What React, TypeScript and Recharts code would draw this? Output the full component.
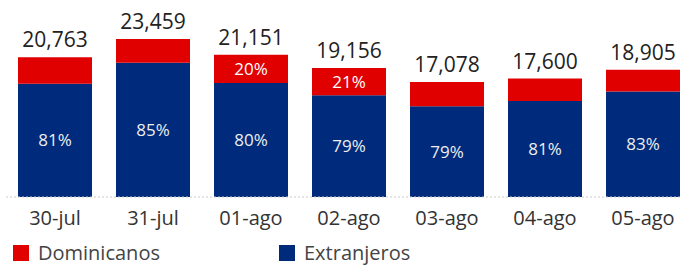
import React from "react";
import { BarChart, Bar, XAxis, YAxis, LabelList } from "recharts";

const days = ["30-jul", "31-jul", "01-ago", "02-ago", "03-ago", "04-ago", "05-ago"];
const totals = [20763, 23459, 21151, 19156, 17078, 17600, 18905];
const dominicanos = [3945, 3519, 4230, 4023, 3586, 3344, 3214];
const extranjeros = [16818, 19940, 16921, 15133, 13492, 14256, 15691];
const extLabels = ["81%", "85%", "80%", "79%", "79%", "81%", "83%"];
const domLabels = ["", "", "20%", "21%", "", "", ""];

const RED = "#e00000";
const BLUE = "#002a7b";
const FONT = "'Open Sans', sans-serif";

const data = days.map((day, i) => ({
  day,
  total: totals[i].toLocaleString("en-US"),
  dominicanos: dominicanos[i],
  extranjeros: extranjeros[i],
  extLabel: extLabels[i],
  domLabel: domLabels[i],
}));

const LegendItem = ({ color, text, left }: { color: string; text: string; left: number }) => (
  <div style={{ position: "absolute", left, top: 245, display: "flex", alignItems: "center" }}>
    <div style={{ width: 16, height: 16, background: color, marginRight: 9 }} />
    <span style={{ fontFamily: FONT, fontSize: 20, color: "#444", lineHeight: "16px" }}>{text}</span>
  </div>
);

const App = () => {
  return (
    <div
      style={{
        position: "absolute",
        left: 0,
        top: 0,
        width: 680,
        height: 265,
        overflow: "hidden",
        background: "#fff",
      }}
    >
      <BarChart
        width={692}
        height={265}
        data={data}
        margin={{ top: 22, right: 0, bottom: 0, left: 6 }}
        barCategoryGap={12}
      >
        <YAxis hide domain={[0, 26000]} />
        <XAxis
          dataKey="day"
          height={68}
          tickLine={false}
          tickMargin={8}
          axisLine={{ stroke: "#cccccc", strokeDasharray: "2 2" }}
          tick={{ fontFamily: FONT, fontSize: 20, fill: "#333" }}
          interval={0}
        />
        <Bar dataKey="extranjeros" stackId="a" fill={BLUE} isAnimationActive={false}>
          <LabelList
            dataKey="extLabel"
            position="center"
            fill="#eeeeee"
            style={{ fontFamily: FONT, fontSize: 17 }}
          />
        </Bar>
        <Bar dataKey="dominicanos" stackId="a" fill={RED} isAnimationActive={false}>
          <LabelList
            dataKey="domLabel"
            position="center"
            fill="#ffffff"
            style={{ fontFamily: FONT, fontSize: 17 }}
          />
          <LabelList
            dataKey="total"
            position="top"
            offset={10}
            fill="#222"
            style={{ fontFamily: FONT, fontSize: 21 }}
          />
        </Bar>
      </BarChart>
      <LegendItem color={RED} text="Dominicanos" left={13} />
      <LegendItem color={BLUE} text="Extranjeros" left={279} />
    </div>
  );
};

export default App;
